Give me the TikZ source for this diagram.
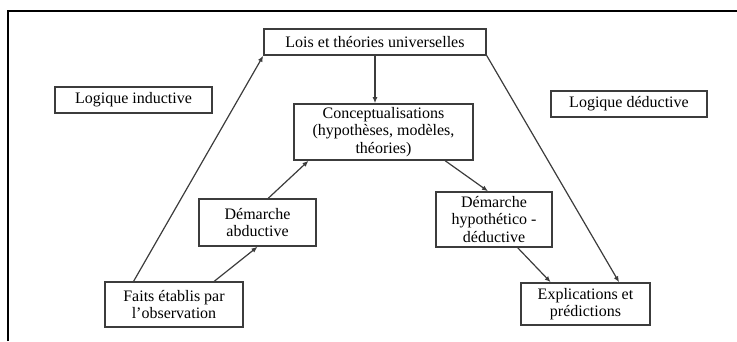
\documentclass[tikz,border=0pt]{standalone}
\usepackage{fontspec}
\setmainfont{Liberation Serif}
\usepackage{tikz}
\usetikzlibrary{arrows.meta, calc}
\definecolor{cLine}{RGB}{60,60,60}

\begin{document}
\begin{tikzpicture}[x=1pt, y=-1pt, font=\fontsize{16}{17.5}\selectfont,
    box/.style={draw=cLine, line width=1.6pt, align=center, inner sep=0pt, text=black},
    link/.style={draw=cLine, line width=1.2pt, -{Latex[length=6pt,width=5pt]}}]
  \useasboundingbox (0,0) rectangle (737,341);
  \draw[line width=2.5pt] (8,341) -- (8,11) -- (737,11);
  \foreach \n/\x/\y/\w/\h/\l in {lois/375/42/222/26/{Lois et théories universelles},
      induct/133.5/100/157/26/{Logique inductive}, deduct/629/104/156/26/{Logique déductive},
      concept/383.5/132/179/56/{Conceptualisations\\(hypothèses, modèles,\\théories)},
      abduct/257.5/222.5/117/47/{Démarche\\abductive}, hypo/494/219.5/116/55/{Démarche\\hypothético -\\déductive},
      faits/174/304.5/138/45/{Faits établis par\\l’observation}, expl/585.5/304/129/42/{Explications et\\prédictions}} {
    \node[box, minimum width=\w pt, minimum height=\h pt] (\n) at (\x,\y) {\l};
  }
  \draw[link] (lois.south) -- (lois.south |- concept.north);
  \draw[link] (faits.150) -- (lois.south west);
  \draw[link] (faits.30) -- (abduct.south);
  \draw[link] (abduct.66) -- (concept.201);
  \draw[link] (concept.-25) -- (hypo.102);
  \draw[link] (hypo.-50) -- (expl.148);
  \draw[link] (lois.-7) -- (expl.33);
\end{tikzpicture}
\end{document}
